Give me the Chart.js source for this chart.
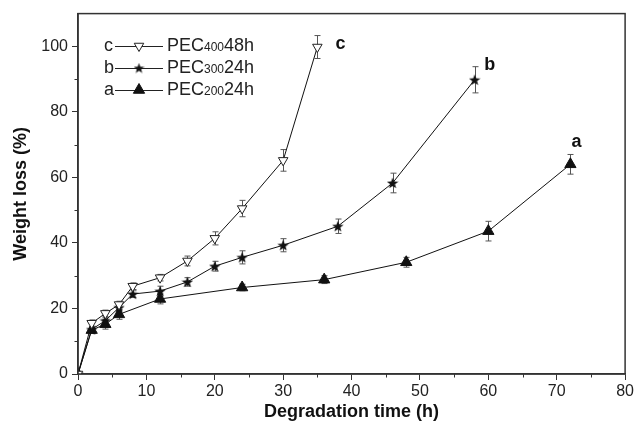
<!DOCTYPE html>
<html>
<head>
<meta charset="utf-8">
<script src="https://cdn.jsdelivr.net/npm/chart.js@4"></script>
<style>
  html, body { margin: 0; padding: 0; background: #fff; }
  #wrap { width: 636px; height: 426px; }
</style>
</head>
<body>
<div id="wrap"><canvas id="weight-loss-chart"></canvas></div>
<script>
/**
 * Data
 */
const xC = [0, 2, 4, 6, 8, 12, 16, 20, 24, 30, 35];
const yC = [0, 15.5, 18.5, 21.2, 26.8, 29.4, 34.5, 41.4, 50.5, 65.2, 99.8];
const eC = [0, 1, 1, 1, 1, 1, 1.5, 2, 2.5, 3.3, 3.5];

const xB = [0, 2, 4, 6, 8, 12, 16, 20, 24, 30, 38, 46, 58];
const yB = [0, 13.6, 16.3, 20.3, 24.4, 25.3, 28.1, 32.9, 35.6, 39.3, 45.1, 58.3, 89.8];
const eB = [0, 1, 1, 1, 1, 1.5, 1.3, 1.5, 2, 2, 2.2, 3, 4];

const xA = [0, 2, 4, 6, 12, 24, 36, 48, 60, 72];
const yA = [0, 13.4, 15.2, 18.2, 22.9, 26.4, 28.8, 34.1, 43.6, 64.0];
const eA = [0, 1, 1.5, 1.5, 1.5, 1, 1.2, 1.5, 3, 3];

const seriesLetters = ['c', 'b', 'a'];
const seriesNames = [['PEC', '400', '48h'], ['PEC', '300', '24h'], ['PEC', '200', '24h']];

const xTicks = [0, 10, 20, 30, 40, 50, 60, 70, 80];
const xMinor = [5, 15, 25, 35, 45, 55, 65, 75];
const yTicks = [0, 20, 40, 60, 80, 100];
const yMinor = [10, 30, 50, 70, 90];

const noteText = ['c', 'b', 'a'];
const noteX = [38.4, 60.2, 72.9];
const noteY = [100.8, 94.2, 70.8];

const FONT = '"Liberation Sans", Arial, sans-serif';
const AXIS_COLOR = '#333';

/**
 * Filled five point star used as marker for series b
 */
function makeStar(size) {
    const c = document.createElement('canvas');
    c.width = size;
    c.height = size;
    const g = c.getContext('2d');
    const cx = size / 2, cy = size / 2 + 0.5;
    const outer = size / 2, inner = outer * 0.42;
    g.beginPath();
    for (let i = 0; i < 10; i++) {
        const r = i % 2 === 0 ? outer : inner;
        const a = -Math.PI / 2 + i * Math.PI / 5;
        const px = cx + r * Math.cos(a), py = cy + r * Math.sin(a);
        if (i === 0) g.moveTo(px, py); else g.lineTo(px, py);
    }
    g.closePath();
    g.fillStyle = '#111';
    g.fill();
    return c;
}
const STAR = makeStar(12);
const STAR_SMALL = makeStar(11);

function toPoints(xs, ys) {
    return xs.map((x, i) => ({ x: x, y: ys[i] }));
}

const errors = [eC, eB, eA];

const markers = [
    { pointStyle: 'triangle', legendStyle: 'triangle', rotation: 180, radius: 5.5, backgroundColor: '#fff', borderColor: '#222', borderWidth: 1 },
    { pointStyle: STAR, legendStyle: STAR_SMALL, rotation: 0, radius: 5, backgroundColor: '#111', borderColor: '#111', borderWidth: 1 },
    { pointStyle: 'triangle', legendStyle: 'triangle', rotation: 0, radius: 6.5, backgroundColor: '#111', borderColor: '#111', borderWidth: 1 }
];

function makeDataset(idx, xs, ys) {
    const m = markers[idx];
    return {
        label: seriesLetters[idx],
        data: toPoints(xs, ys),
        borderColor: '#111',
        borderWidth: 1,
        pointStyle: m.pointStyle,
        rotation: m.rotation,
        pointRadius: m.radius,
        pointBackgroundColor: m.backgroundColor,
        pointBorderColor: m.borderColor,
        pointBorderWidth: m.borderWidth,
        tension: 0,
        fill: false
    };
}

/**
 * Error bars, minor ticks, frame, legend and letter notes
 */
const extrasPlugin = {
    id: 'extras',
    beforeDatasetsDraw(chart) {
        const ctx = chart.ctx;
        ctx.save();
        ctx.strokeStyle = '#555';
        ctx.lineWidth = 1;
        chart.data.datasets.forEach((ds, i) => {
            const meta = chart.getDatasetMeta(i);
            const yScale = chart.scales.y;
            ds.data.forEach((p, j) => {
                const e = errors[i][j];
                if (!e) return;
                const px = Math.round(meta.data[j].x) + 0.5;
                const top = yScale.getPixelForValue(p.y + e);
                const bot = yScale.getPixelForValue(p.y - e);
                ctx.beginPath();
                ctx.moveTo(px, top);
                ctx.lineTo(px, bot);
                ctx.moveTo(px - 3, top);
                ctx.lineTo(px + 3, top);
                ctx.moveTo(px - 3, bot);
                ctx.lineTo(px + 3, bot);
                ctx.stroke();
            });
        });
        ctx.restore();
    },
    afterDraw(chart) {
        const ctx = chart.ctx;
        const area = chart.chartArea;
        const xs = chart.scales.x, ys = chart.scales.y;
        ctx.save();

        // frame
        ctx.strokeStyle = AXIS_COLOR;
        ctx.lineWidth = 1.5;
        ctx.strokeRect(area.left, area.top, area.right - area.left, area.bottom - area.top);

        // minor ticks
        ctx.lineWidth = 1;
        ctx.beginPath();
        xMinor.forEach(v => {
            const px = Math.round(xs.getPixelForValue(v)) + 0.5;
            ctx.moveTo(px, area.bottom);
            ctx.lineTo(px, area.bottom + 3.5);
        });
        yMinor.forEach(v => {
            const py = Math.round(ys.getPixelForValue(v)) + 0.5;
            ctx.moveTo(area.left, py);
            ctx.lineTo(area.left - 3.5, py);
        });
        ctx.stroke();

        // legend
        const lx = 104, ly0 = 46, dy = 22;
        ctx.textBaseline = 'middle';
        chart.data.datasets.forEach((ds, i) => {
            const y = ly0 + i * dy;
            ctx.fillStyle = '#222';
            ctx.font = '18px ' + FONT;
            ctx.textAlign = 'left';
            ctx.fillText(seriesLetters[i], lx, y);
            ctx.strokeStyle = '#222';
            ctx.lineWidth = 1;
            ctx.beginPath();
            ctx.moveTo(lx + 11, y + 0.5);
            ctx.lineTo(lx + 59, y + 0.5);
            ctx.stroke();
            const m = markers[i];
            ctx.fillStyle = m.backgroundColor;
            ctx.strokeStyle = m.borderColor;
            ctx.beginPath();
            Chart.helpers.drawPoint(ctx, {
                pointStyle: m.legendStyle,
                rotation: m.rotation,
                radius: m.radius,
                borderWidth: m.borderWidth
            }, lx + 35, y);

            const parts = seriesNames[i];
            let tx = lx + 63;
            ctx.fillStyle = '#222';
            ctx.font = '18px ' + FONT;
            ctx.fillText(parts[0], tx, y);
            tx += ctx.measureText(parts[0]).width;
            ctx.font = '12px ' + FONT;
            ctx.fillText(parts[1], tx, y + 2);
            tx += ctx.measureText(parts[1]).width;
            ctx.font = '18px ' + FONT;
            ctx.fillText(parts[2], tx, y);
        });

        // letter notes
        ctx.font = 'bold 18px ' + FONT;
        ctx.fillStyle = '#111';
        ctx.textAlign = 'center';
        noteText.forEach((t, i) => {
            ctx.fillText(t, xs.getPixelForValue(noteX[i]), ys.getPixelForValue(noteY[i]));
        });
        ctx.restore();
    }
};

const ctx = document.getElementById('weight-loss-chart');
const myChart = new Chart(ctx, {
    type: 'line',
    data: {
        datasets: [
            makeDataset(0, xC, yC),
            makeDataset(1, xB, yB),
            makeDataset(2, xA, yA)
        ]
    },
    options: {
        responsive: true,
        maintainAspectRatio: false,
        animation: false,
        layout: { padding: { top: 13, right: 8, left: 0, bottom: 0 } },
        plugins: {
            legend: { display: false },
            tooltip: { enabled: false }
        },
        scales: {
            x: {
                type: 'linear',
                min: 0,
                max: 80,
                afterBuildTicks: (scale) => { scale.ticks = xTicks.map(v => ({ value: v })); },
                afterFit: (scale) => { scale.height = 52; },
                grid: { drawOnChartArea: false, drawTicks: true, tickLength: 6, color: AXIS_COLOR, tickColor: AXIS_COLOR },
                border: { color: AXIS_COLOR, width: 1.5 },
                ticks: { color: '#222', padding: 2, maxRotation: 0, font: { family: FONT, size: 16 } },
                title: {
                    display: true,
                    text: 'Degradation time (h)',
                    color: '#111',
                    padding: { top: 0, bottom: 3 },
                    font: { family: FONT, size: 18, weight: 'bold' }
                }
            },
            y: {
                type: 'linear',
                min: 0,
                max: 110,
                afterBuildTicks: (scale) => { scale.ticks = yTicks.map(v => ({ value: v })); },
                afterFit: (scale) => { scale.width = 78; },
                grid: { drawOnChartArea: false, drawTicks: true, tickLength: 6, color: AXIS_COLOR, tickColor: AXIS_COLOR },
                border: { color: AXIS_COLOR, width: 1.5 },
                ticks: { color: '#222', padding: 4, font: { family: FONT, size: 16 } },
                title: {
                    display: true,
                    text: 'Weight loss (%)',
                    color: '#111',
                    padding: { top: 10, bottom: 0 },
                    font: { family: FONT, size: 18, weight: 'bold' }
                }
            }
        }
    },
    plugins: [extrasPlugin]
});
</script>
</body>
</html>
